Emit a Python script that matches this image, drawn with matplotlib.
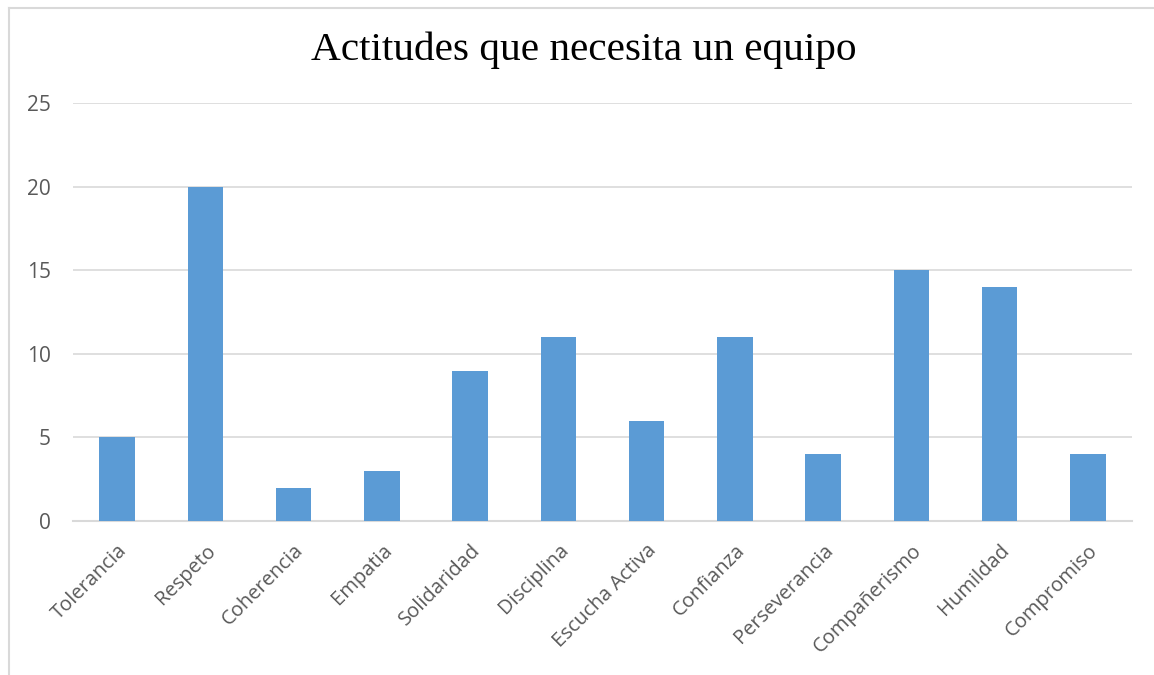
import matplotlib
matplotlib.use("Agg")
import matplotlib.pyplot as plt
from matplotlib.lines import Line2D

categorias = ["Tolerancia", "Respeto", "Coherencia", "Empatia", "Solidaridad",
              "Disciplina", "Escucha Activa", "Confianza", "Perseverancia",
              "Compañerismo", "Humildad", "Compromiso"]
valores = [5, 20, 2, 3, 9, 11, 6, 11, 4, 15, 14, 4]
yticks = [0, 5, 10, 15, 20, 25]

gris = "#595959"
fig = plt.figure(figsize=(11.54, 6.75), dpi=100)
ax = fig.add_axes([73 / 1154, 1 - 521 / 675, (1132 - 73) / 1154, (521 - 103) / 675])

x = list(range(len(categorias)))
ax.bar(x, valores, width=0.4, color="#5B9BD5", zorder=3)
ax.set_xlim(-0.5, len(categorias) - 0.5)
ax.set_ylim(0, 25)
ax.set_yticks(yticks)
ax.set_yticklabels([str(v) for v in yticks], fontsize=15, color=gris, family="Open Sans")
ax.set_xticks(x)
ax.set_xticklabels(categorias, rotation=45, ha="right", rotation_mode="anchor",
                   fontsize=14.5, color=gris, family="Open Sans")
ax.tick_params(axis="both", length=0)
ax.tick_params(axis="y", pad=16)
ax.tick_params(axis="x", pad=14)
ax.grid(axis="y", color="#D9D9D9", linewidth=1.2, zorder=0)
for s in ["top", "right", "left"]:
    ax.spines[s].set_visible(False)
ax.spines["bottom"].set_color("#D9D9D9")
ax.spines["bottom"].set_linewidth(1.5)

fig.text(584 / 1154, 1 - 50 / 675, "Actitudes que necesita un equipo", ha="center", va="center",
         fontsize=29.7, family="Liberation Serif", color="black")

# borde del gráfico
fig.add_artist(Line2D([8.5 / 1154, 8.5 / 1154], [0, 1 - 7.5 / 675], transform=fig.transFigure,
                      color="#D9D9D9", linewidth=1.5))
fig.add_artist(Line2D([8.5 / 1154, 1], [1 - 7.5 / 675, 1 - 7.5 / 675], transform=fig.transFigure,
                      color="#D9D9D9", linewidth=1.5))

fig.savefig("out.png", dpi=100)
